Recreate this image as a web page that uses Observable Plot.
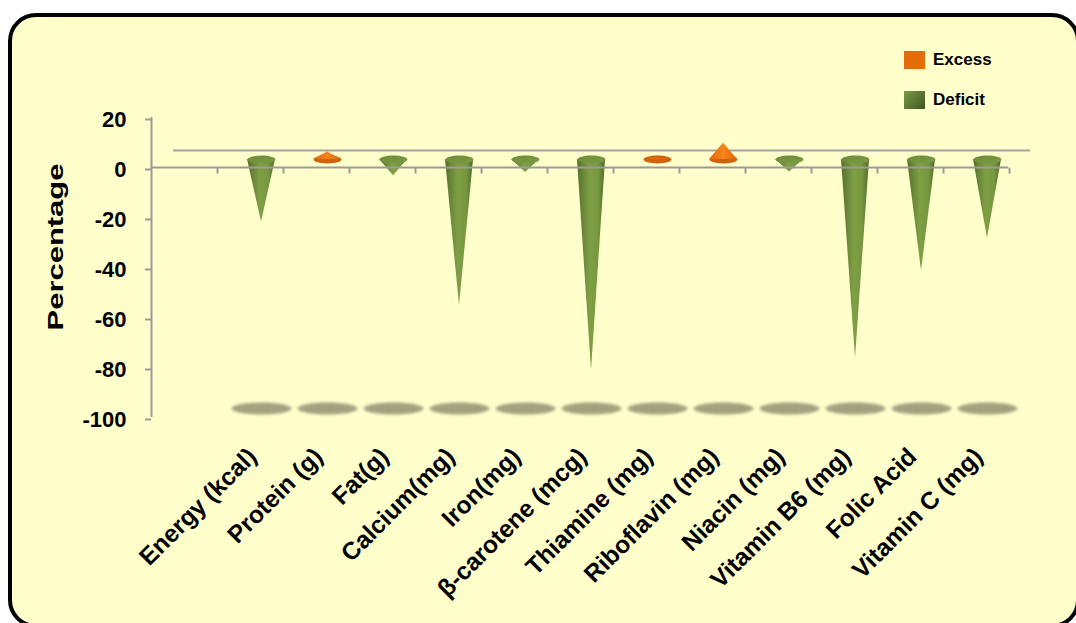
<!DOCTYPE html>
<html><head><meta charset="utf-8">
<script src="https://cdn.jsdelivr.net/npm/d3@7"></script>
<script src="https://cdn.jsdelivr.net/npm/@observablehq/plot@0.6"></script>
<style>
html,body{margin:0;padding:0;background:#fff;width:1076px;height:623px;overflow:hidden;font-family:"Liberation Sans",Arial,sans-serif;}
#frame{position:absolute;left:8px;top:13px;width:1064px;height:607px;border:4px solid #000;border-radius:28px;background:#FFFFCC;}
#chart{position:absolute;left:0;top:0;}
.item{position:absolute;left:904px;display:flex;align-items:center;font-weight:bold;font-size:17px;color:#000;}
.sw{width:21px;height:18px;margin-right:8px;}
</style></head>
<body>
<div id="frame"></div>
<div id="chart"></div>
<div class="item" style="top:50px"><div class="sw" style="background:#E36C09"></div>Excess</div>
<div class="item" style="top:90px"><div class="sw" style="background:linear-gradient(135deg,#7c9c46,#3c5420)"></div>Deficit</div>
<script>
const categories = ["Energy (kcal)", "Protein (g)", "Fat(g)", "Calcium(mg)", "Iron(mg)", "β-carotene (mcg)", "Thiamine (mg)", "Riboflavin (mg)", "Niacin (mg)", "Vitamin B6 (mg)", "Folic Acid", "Vitamin C (mg)"];
const excess  = [null, 3, null, null, null, null, 0.3, 6.5, null, null, null, null];
const deficit = [-25, null, -6.5, -58.5, -5.2, -84.5, null, null, -5, -79.5, -44.5, -31.5];
const yTicks = [20, 0, -20, -40, -60, -80, -100];

const grey = "#9a9a9a";
const xDomain = [-5/3, -5/3 + 857/66];
const hw = 14/66;          // cone half-width in category units
const depthDy = -8;         // 3-D depth shift of cones

const ellipse = (ratio) => ({draw(ctx, size){
  const rx = Math.sqrt(size/Math.PI), ry = rx*ratio, k = 0.5523;
  ctx.moveTo(rx,0);
  ctx.bezierCurveTo(rx, ry*k, rx*k, ry, 0, ry);
  ctx.bezierCurveTo(-rx*k, ry, -rx, ry*k, -rx, 0);
  ctx.bezierCurveTo(-rx, -ry*k, -rx*k, -ry, 0, -ry);
  ctx.bezierCurveTo(rx*k, -ry, rx, -ry*k, rx, 0);
  ctx.closePath();
}});
const vtick = {draw(ctx){ ctx.moveTo(0,0); ctx.lineTo(0,6); }};

function cone(vals){
  const pts = [];
  vals.forEach((v,i) => { if (v == null) return;
    pts.push({i, x:i-hw, y:0}, {i, x:i, y:v}, {i, x:i+hw, y:0}); });
  return pts;
}
const idx = categories.map((c,i)=>i);
const defIdx = idx.filter(i => deficit[i] != null);
const excIdx = idx.filter(i => excess[i] != null);
const boundaries = d3.range(-1, categories.length).map(i => i + 1/3);

const plot = Plot.plot({
  width:1076, height:623,
  marginLeft:151, marginRight:68, marginTop:117, marginBottom:206,
  style:{background:"transparent", fontFamily:"'Liberation Sans', Arial, sans-serif", color:"#000"},
  x:{type:"linear", domain:xDomain, axis:null, label:null},
  y:{domain:[-100,20], axis:null, label:null},
  marks:[
    Plot.dot(idx, {x:d=>d, y:-100, r:30, symbol:ellipse(0.2), fill:"#a2a27f", dy:-9}),
    Plot.ruleY([0], {dx:22, dy:-17, stroke:"#a4a4a4", strokeWidth:2}),
    // excess cones (base ellipse first, then body)
    Plot.dot(excIdx, {x:d=>d, y:0, r:14, symbol:ellipse(0.28), fill:"#d2610b", dy:depthDy}),
    Plot.areaY(cone(excess), {x:"x", y1:0, y2:"y", z:"i", fill:"url(#gOrange)", dy:depthDy}),
    // deficit cones (body, then top ellipse)
    Plot.areaY(cone(deficit), {x:"x", y1:0, y2:"y", z:"i", fill:"url(#gGreen)", dy:depthDy}),
    Plot.dot(defIdx, {x:d=>d, y:0, r:14, symbol:ellipse(0.28), fill:"url(#gTop)", dy:depthDy}),
    // axes
    Plot.ruleY([0], {stroke:grey, strokeWidth:2}),
    Plot.dot(boundaries, {x:d=>d, y:0, symbol:vtick, r:3, fill:"none", stroke:grey, strokeWidth:2}),
    Plot.ruleX([xDomain[0]], {y1:-100, y2:20, stroke:grey, strokeWidth:2}),
    Plot.axisY(yTicks, {label:null, tickFormat:d=>String(d), tickSize:6, tickPadding:19, stroke:grey, strokeWidth:2, fill:"#000", fontSize:22, fontWeight:"bold", dy:2}),
    Plot.axisX(idx, {label:null, tickFormat:i=>categories[i], tickRotate:-45, tickSize:0, tickPadding:35, fill:"#000", fontSize:24.5, fontWeight:"bold", dx:-9}),
    Plot.text(["Percentage"], {text:d=>d, frameAnchor:"left", textAnchor:"start", dx:-96, dy:63, rotate:-90, fontSize:22, fontWeight:"bold", fill:"#000"})
  ]
});

// gradient / blur definitions
const ns = "http://www.w3.org/2000/svg";
const defs = document.createElementNS(ns, "defs");
defs.innerHTML = `
<linearGradient id="gGreen" x1="0" x2="1" y1="0" y2="0">
  <stop offset="0" stop-color="#55702a"/><stop offset="0.45" stop-color="#7f9f45"/>
  <stop offset="0.75" stop-color="#789840"/><stop offset="1" stop-color="#4f6a26"/>
</linearGradient>
<linearGradient id="gTop" x1="0" x2="1" y1="0" y2="1">
  <stop offset="0" stop-color="#6d8c38"/><stop offset="1" stop-color="#7c9b44"/>
</linearGradient>
<linearGradient id="gOrange" x1="0" x2="1" y1="0" y2="0">
  <stop offset="0" stop-color="#e0650a"/><stop offset="0.5" stop-color="#f7841c"/><stop offset="1" stop-color="#e0660b"/>
</linearGradient>
<filter id="blur" x="-20%" y="-50%" width="140%" height="200%"><feGaussianBlur stdDeviation="1.6"/></filter>`;
plot.insertBefore(defs, plot.firstChild);
plot.querySelectorAll('g[fill="#a2a27f"]').forEach(g => g.setAttribute("filter","url(#blur)"));
plot.querySelectorAll("text").forEach(t => {
  if (t.textContent === "Percentage") { t.setAttribute("textLength", 167); t.setAttribute("lengthAdjust", "spacingAndGlyphs"); }
});
document.getElementById("chart").appendChild(plot);
</script>
</body></html>
